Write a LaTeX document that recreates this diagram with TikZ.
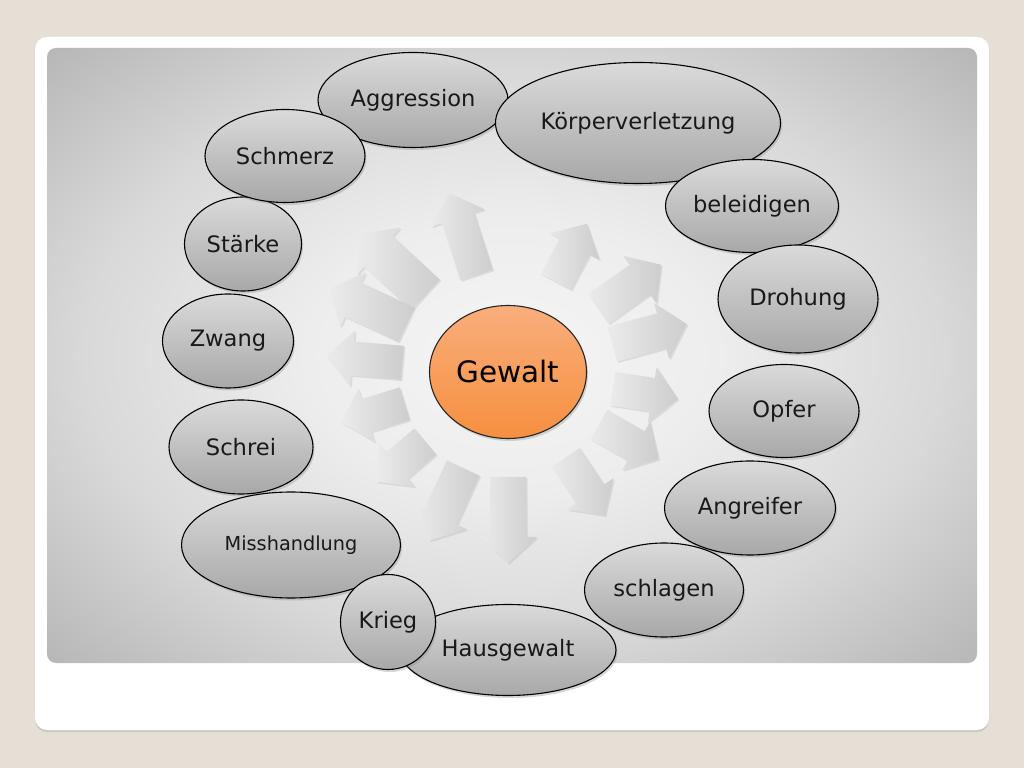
\documentclass[tikz,border=0pt]{standalone}
\usepackage{fontspec}
\setmainfont{DejaVu Sans}
\usepackage{tikz}
\usetikzlibrary{shadows, shapes, positioning}
\definecolor{slidebg}{HTML}{E5DFD6}
\definecolor{bubbletop}{HTML}{DADADA}
\definecolor{bubblebot}{HTML}{A8A8A8}
\definecolor{gewalttop}{HTML}{F9AE7C}
\definecolor{gewaltbot}{HTML}{F68F40}
\definecolor{arrowlight}{HTML}{EBEBEB}
\definecolor{arrowdark}{HTML}{CDCDCD}
\pgfdeclareradialshading{panelshade}{\pgfpoint{0bp}{0bp}}{color(0bp)=(black!4); color(11bp)=(black!7); color(23bp)=(black!15); color(35bp)=(black!28); color(50bp)=(black!40); color(71bp)=(black!45)}

\begin{document}
\begin{tikzpicture}[x=1pt, y=1pt,
  bubble/.style={ellipse, draw=black, line width=1.1pt, top color=bubbletop, bottom color=bubblebot,
    inner sep=0pt, text=black!90, font=\fontsize{22.6}{26}\selectfont,
    drop shadow={shadow xshift=1.5pt, shadow yshift=-2.5pt, opacity=0.3}},
  blockarrow/.style={left color=arrowlight, right color=arrowdark, draw=none,
    drop shadow={shadow xshift=1.5pt, shadow yshift=-1.5pt, opacity=0.18}}]
\useasboundingbox (0,0) rectangle (1024,768);
\fill[slidebg] (0,0) rectangle (1024,768);
% card and panel
\fill[white, rounded corners=12pt, drop shadow={shadow xshift=0pt, shadow yshift=-2pt, opacity=0.25}] (35,38) rectangle (989,731);
\shade[shading=panelshade, rounded corners=9pt] (47,105) rectangle (977,720);

\node[ellipse, draw=black!85, line width=1.1pt, top color=gewalttop, bottom color=gewaltbot, inner sep=0pt,
  minimum width=157, minimum height=133, font=\fontsize{29.5}{34}\selectfont,
  drop shadow={shadow xshift=1.5pt, shadow yshift=-2.5pt, opacity=0.3}] (gewalt) at (508,396) {Gewalt};

\begin{scope}[shift={(gewalt.center)}]
\foreach \ang/\rin/\rout/\w in {108/102/188/34, 137/113/203/42, 155/112/197/38, 175/106/182/34,
    197/108/174/34, 220/108/171/34, 245/106/186/36, 270/105/191/36, 304/103/173/34,
    330/105/174/34, 351/106/172/34, 15/108/185/36, 35/110/187/36, 62/102/168/34}
{
  \begin{scope}[rotate=\ang]
  \path[blockarrow] (\rin,-\w/2) -- (\rout-26,-\w/2) -- (\rout-26,-\w/2-11) -- (\rout,0)
    -- (\rout-26,\w/2+11) -- (\rout-26,\w/2) -- (\rin,\w/2) -- cycle;
  \end{scope}
}
\end{scope}

\node[bubble, minimum width=117, minimum height=94] (staerke) at (243,524) {Stärke};
\node[bubble, minimum width=190, minimum height=95] (aggression) at (413,668) {Aggression};
\node[bubble, minimum width=160, minimum height=93] (schmerz) at (285,612) {Schmerz};
\node[bubble, minimum width=285, minimum height=121] (koerper) at (638,645) {Körperverletzung};
\node[bubble, minimum width=173, minimum height=93] (beleidigen) at (752,562) {beleidigen};
\node[bubble, minimum width=160, minimum height=108] (drohung) at (798,469) {Drohung};
\node[bubble, minimum width=131, minimum height=94] (zwang) at (228,427) {Zwang};
\node[bubble, minimum width=150, minimum height=93] (opfer) at (784,357) {Opfer};
\node[bubble, minimum width=144, minimum height=94] (schrei) at (241,321) {Schrei};
\node[bubble, minimum width=171, minimum height=94] (angreifer) at (750,260) {Angreifer};
\node[bubble, minimum width=159, minimum height=94] (schlagen) at (664,178) {schlagen};
\node[bubble, minimum width=219, minimum height=106, font=\fontsize{19.3}{23}\selectfont] (misshandlung) at (291,223) {Misshandlung};
\node[bubble, minimum width=216, minimum height=91] (hausgewalt) at (508,118) {Hausgewalt};
\node[bubble, minimum width=95, minimum height=95] (krieg) at (388,146) {Krieg};
\end{tikzpicture}
\end{document}
